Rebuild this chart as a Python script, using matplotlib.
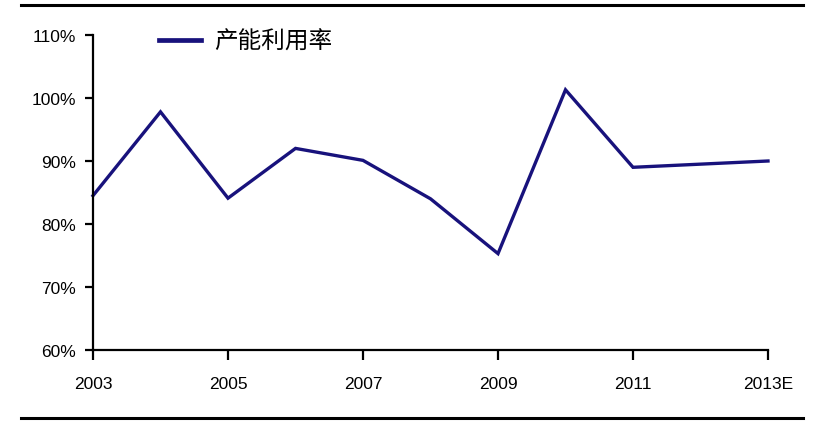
import matplotlib
matplotlib.use("Agg")
import matplotlib.pyplot as plt
from matplotlib import font_manager
from matplotlib.lines import Line2D

years = ["2003", "2004", "2005", "2006", "2007", "2008", "2009", "2010", "2011", "2012", "2013E"]
utilization = [84.5, 97.8, 84.1, 92.0, 90.1, 84.0, 75.3, 101.3, 89.0, 89.5, 90.0]
series_name = "产能利用率"
y_ticks = [60, 70, 80, 90, 100, 110]

names = {f.name for f in font_manager.fontManager.ttflist}
num_font = "Liberation Sans Narrow" if "Liberation Sans Narrow" in names else "Liberation Sans"

fig = plt.figure(figsize=(8.37, 4.27), dpi=100)
W, H = 837, 427
ax = fig.add_axes([93 / W, (H - 351) / H, (768 - 93) / W, (351 - 36) / H])

color = "#18127c"
x = list(range(len(years)))
ax.plot(x, utilization, color=color, lw=2.4, solid_joinstyle="miter", label=series_name, clip_on=False)

ax.set_xlim(0, len(years) - 1)
ax.set_ylim(60, 110)
ax.set_yticks(y_ticks)
ax.set_yticklabels([f"{v}%" for v in y_ticks], fontfamily=num_font, fontsize=12.5)
ax.set_xticks(x[::2])
ax.set_xticklabels(years[::2], fontfamily=num_font, fontsize=12.5)

for s in ["top", "right"]:
    ax.spines[s].set_visible(False)
for s in ["left", "bottom"]:
    ax.spines[s].set_linewidth(1.6)
    ax.spines[s].set_color("black")
ax.tick_params(axis="y", direction="out", length=6, width=1.6, pad=6, colors="black")
ax.tick_params(axis="x", direction="out", length=7, width=1.6, pad=12, colors="black")

leg = ax.legend(loc="upper left", bbox_to_anchor=(159 / W, 1 - 31 / H), bbox_transform=fig.transFigure,
                frameon=False, handlelength=1.8, handletextpad=0.55, borderpad=0, borderaxespad=0,
                prop={"family": ["Noto Sans CJK SC", "DejaVu Sans"], "size": 17})
for h in leg.get_lines():
    h.set_linewidth(3.4)

fig.add_artist(Line2D([21 / W, 803 / W], [1 - 6 / H, 1 - 6 / H], transform=fig.transFigure, color="black", lw=2.2))
fig.add_artist(Line2D([21 / W, 803 / W], [1 - 419 / H, 1 - 419 / H], transform=fig.transFigure, color="black", lw=2.2))

fig.savefig("out.png", dpi=100)
